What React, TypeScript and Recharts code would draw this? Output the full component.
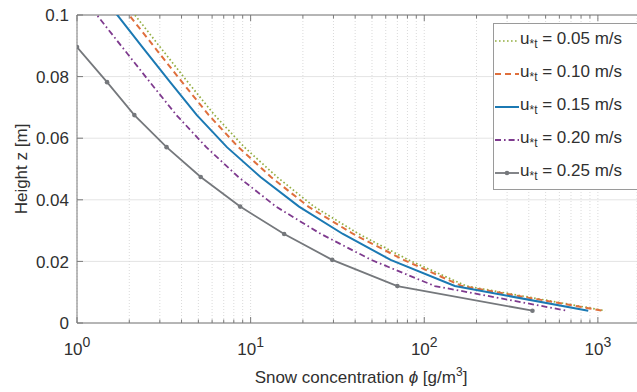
import { CartesianGrid, Label, Line, LineChart, ReferenceLine, XAxis, YAxis } from "recharts";

// heights shared by the model grid (m)
const Z_LEVELS = [0.102, 0.0896, 0.0782, 0.0675, 0.0571, 0.0474, 0.0378, 0.0289, 0.0205, 0.012, 0.004];

// snow concentration (g/m^3) at each height, one array per friction velocity
const PHI_005 = [2.02, 3.01, 4.35, 6.2, 9.2, 14.2, 23.2, 42, 81, 175, 1100];
const PHI_010 = [1.87, 2.79, 4.03, 5.74, 8.5, 13.1, 21.5, 39, 76, 165, 1060];
const PHI_015 = [1.6, 2.38, 3.44, 4.9, 7.3, 11.4, 19.0, 34, 64, 150, 880];
const PHI_020 = [1.22, 1.82, 2.63, 3.74, 5.55, 8.5, 14.0, 25.4, 49.5, 115, 660];
const PHI_025 = [1.0, 1.49, 2.14, 3.28, 5.16, 8.7, 15.6, 29.5, 70, 420]; // starts at Z_LEVELS[1]

const X_TICKS = [
  1, 2, 3, 4, 5, 6, 7, 8, 9,
  10, 20, 30, 40, 50, 60, 70, 80, 90,
  100, 200, 300, 400, 500, 600, 700, 800, 900,
  1000,
];
const Y_TICKS = [0, 0.02, 0.04, 0.06, 0.08, 0.1];

const W = 637;
const H = 392;
const TOP = 15;
const LEFT = 77;
const BOTTOM_H = 69;
const AXIS = "#7a7a7a";
const TEXT = "#303030";
const FONT = "'Liberation Sans', Arial, sans-serif";

const toPoints = (phi: number[], z: number[]) => phi.map((p, i) => ({ phi: p, z: z[i] }));

const SERIES = [
  { label: "0.05", color: "#93ae42", dash: "1.6 2.4", width: 1.7, dot: false, data: toPoints(PHI_005, Z_LEVELS) },
  { label: "0.10", color: "#df6f3c", dash: "6 4", width: 2, dot: false, data: toPoints(PHI_010, Z_LEVELS) },
  { label: "0.15", color: "#1b79b3", dash: undefined, width: 2, dot: false, data: toPoints(PHI_015, Z_LEVELS) },
  { label: "0.20", color: "#7e3a8e", dash: "6 3 1.6 3", width: 1.8, dot: false, data: toPoints(PHI_020, Z_LEVELS) },
  { label: "0.25", color: "#75787c", dash: undefined, width: 1.8, dot: true, data: toPoints(PHI_025, Z_LEVELS.slice(1)) },
];

function XTick({ x, y, payload }: any) {
  const v = payload.value as number;
  const exp = Math.log10(v);
  const major = Math.abs(exp - Math.round(exp)) < 1e-9;
  const len = major ? 6 : 3.5;
  const plotTop = y - (H - BOTTOM_H - TOP);
  return (
    <g>
      <line x1={x} y1={y} x2={x} y2={y - len} stroke={AXIS} />
      <line x1={x} y1={plotTop} x2={x} y2={plotTop + len} stroke={AXIS} />
      {major && (
        <text x={x} y={y + 32} textAnchor="middle" fontSize={17} fill={TEXT}>
          10
          <tspan dy={-8} fontSize={14}>
            {Math.round(exp)}
          </tspan>
        </text>
      )}
    </g>
  );
}

function YTick({ x, y, payload }: any) {
  return (
    <g>
      <line x1={x} y1={y} x2={x + 6} y2={y} stroke={AXIS} />
      <text x={x - 8} y={y} dy="0.36em" textAnchor="end" fontSize={17} fill={TEXT}>
        {String(payload.value)}
      </text>
    </g>
  );
}

function LegendBox() {
  return (
    <div
      style={{
        position: "absolute",
        left: 493,
        top: 23,
        width: 160,
        border: "1px solid #9a9a9a",
        background: "#fff",
        fontFamily: FONT,
      }}
    >
      {SERIES.map((s) => (
        <div key={s.label} style={{ display: "flex", alignItems: "center", height: 33, color: TEXT }}>
          <svg width={26} height={10} style={{ flex: "none" }}>
            <line x1={1} y1={5} x2={25} y2={5} stroke={s.color} strokeWidth={s.width} strokeDasharray={s.dash} />
            {s.dot && <circle cx={13} cy={5} r={2.3} fill={s.color} />}
          </svg>
          <span style={{ fontSize: 17, lineHeight: 1, whiteSpace: "nowrap" }}>
            u<sub style={{ fontSize: 12, lineHeight: 1 }}>*t</sub> = {s.label} m/s
          </span>
        </div>
      ))}
    </div>
  );
}

export default function App() {
  return (
    <div style={{ position: "absolute", left: 0, top: 0, width: W, height: H, overflow: "hidden", background: "#fff", fontFamily: FONT }}>
      <LineChart width={W} height={H} margin={{ top: TOP, right: 0, bottom: 0, left: 0 }}>
        <CartesianGrid vertical={false} stroke="#e4e4e4" />
        <CartesianGrid horizontal={false} stroke="#dadada" strokeDasharray="1 2" />
        <XAxis
          dataKey="phi"
          type="number"
          scale="log"
          domain={[1, 1680]}
          ticks={X_TICKS}
          interval={0}
          allowDataOverflow
          height={BOTTOM_H}
          tickSize={0}
          tickMargin={0}
          tickLine={false}
          axisLine={{ stroke: AXIS }}
          tick={<XTick />}
        >
          <Label
            content={() => (
              <text x={361} y={383} textAnchor="middle" fontSize={17} fill={TEXT}>
                Snow concentration <tspan fontStyle="italic">ϕ</tspan> [g/m
                <tspan dy={-7} fontSize={12}>3</tspan>
                <tspan dy={7}>]</tspan>
              </text>
            )}
          />
        </XAxis>
        <YAxis
          dataKey="z"
          type="number"
          domain={[0, 0.1]}
          ticks={Y_TICKS}
          allowDataOverflow
          width={LEFT}
          tickSize={0}
          tickMargin={0}
          tickLine={false}
          axisLine={{ stroke: AXIS }}
          tick={<YTick />}
        >
          <Label
            content={({ viewBox }: any) => {
              const cy = viewBox.y + viewBox.height / 2;
              return (
                <text x={27} y={cy} transform={`rotate(-90 27 ${cy})`} textAnchor="middle" fontSize={17} fill={TEXT}>
                  Height z [m]
                </text>
              );
            }}
          />
        </YAxis>
        <ReferenceLine y={0.1} stroke={AXIS} />
        {SERIES.map((s) => (
          <Line
            key={s.label}
            data={s.data}
            dataKey="z"
            name={s.label}
            type="linear"
            stroke={s.color}
            strokeWidth={s.width}
            strokeDasharray={s.dash}
            dot={s.dot ? { r: 2.3, fill: s.color, stroke: s.color, strokeWidth: 0 } : false}
            activeDot={false}
            isAnimationActive={false}
          />
        ))}
      </LineChart>
      <LegendBox />
    </div>
  );
}
